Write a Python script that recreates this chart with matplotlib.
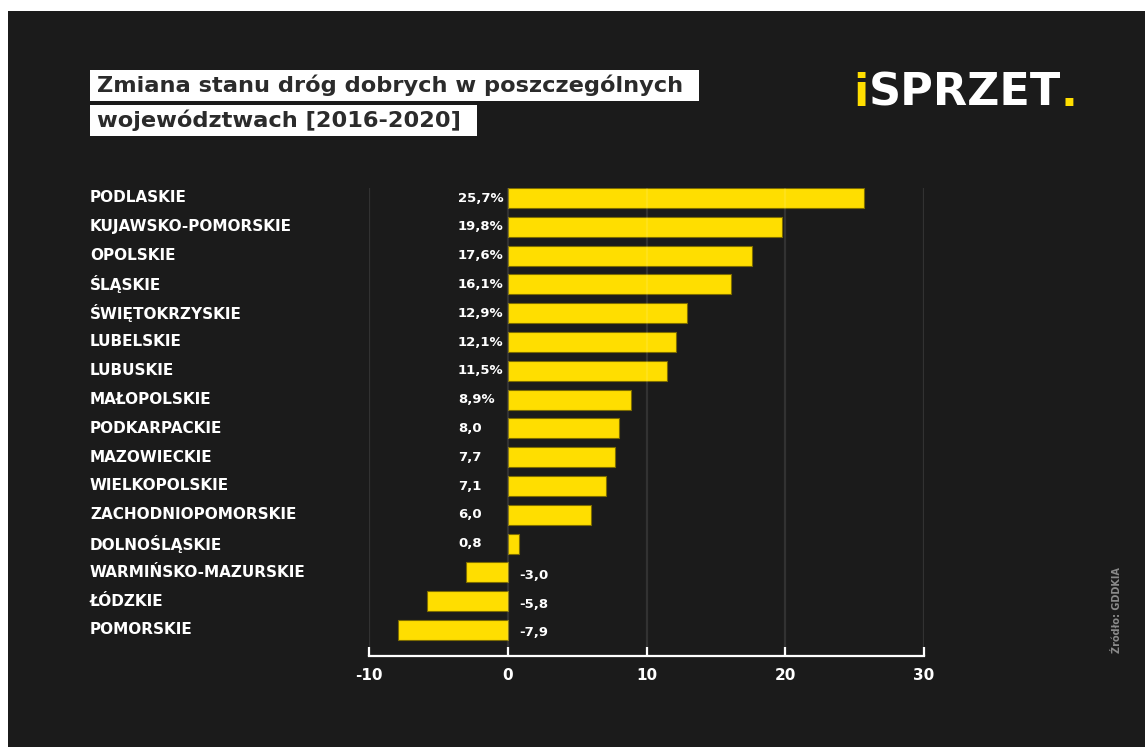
import matplotlib
matplotlib.use("Agg")
import matplotlib.pyplot as plt
import matplotlib.transforms as mtransforms
from matplotlib.patches import Rectangle

# ---------------- data ----------------
regions = ["PODLASKIE", "KUJAWSKO-POMORSKIE", "OPOLSKIE", "ŚLĄSKIE",
           "ŚWIĘTOKRZYSKIE", "LUBELSKIE", "LUBUSKIE", "MAŁOPOLSKIE",
           "PODKARPACKIE", "MAZOWIECKIE", "WIELKOPOLSKIE",
           "ZACHODNIOPOMORSKIE", "DOLNOŚLĄSKIE", "WARMIŃSKO-MAZURSKIE",
           "ŁÓDZKIE", "POMORSKIE"]
values = [25.7, 19.8, 17.6, 16.1, 12.9, 12.1, 11.5, 8.9, 8.0, 7.7, 7.1,
          6.0, 0.8, -3.0, -5.8, -7.9]
value_labels = ["25,7%", "19,8%", "17,6%", "16,1%", "12,9%", "12,1%",
                "11,5%", "8,9%", "8,0", "7,7", "7,1", "6,0", "0,8",
                "-3,0", "-5,8", "-7,9"]
x_ticks = [-10, 0, 10, 20, 30]
x_tick_labels = ["-10", "0", "10", "20", "30"]
title_lines = ["Zmiana stanu dróg dobrych w poszczególnych",
               "województwach [2016-2020]"]
source_text = "Źródło: GDDKIA"

# ---------------- style ----------------
W, H = 1145, 747
BG = "#1b1b1b"
YELLOW = "#FFDE00"
EDGE = "#7d6c00"
FONT = "DejaVu Sans"

fig = plt.figure(figsize=(W / 100, H / 100), dpi=100, facecolor="white")
fig.patches.append(Rectangle((8 / W, 0), 1 - 8 / W, 1 - 11 / H,
                             transform=fig.transFigure, facecolor=BG,
                             edgecolor="none", zorder=-10))

ax_left, ax_right = 369, 924
ax_top, ax_bottom = 188, 656
ax = fig.add_axes([ax_left / W, 1 - ax_bottom / H,
                   (ax_right - ax_left) / W, (ax_bottom - ax_top) / H])
ax.set_facecolor("none")

ypos = list(range(len(regions)))
ax.barh(ypos, values, height=0.70, color=YELLOW, edgecolor=EDGE,
        linewidth=0.8, zorder=2)

row_px = (630 - 198) / 15.0
ax.set_xlim(-10, 30)
ax.set_ylim((ax_bottom - 198) / row_px, -(198 - ax_top) / row_px)

for s in ["top", "right", "left"]:
    ax.spines[s].set_visible(False)
ax.spines["bottom"].set_color("white")
ax.spines["bottom"].set_linewidth(1.6)
ax.set_yticks([])
ax.set_xticks(x_ticks)
ax.set_xticklabels(x_tick_labels, color="white", fontsize=11,
                   fontweight="bold", family=FONT)
ax.tick_params(axis="x", direction="in", length=6.5, width=1.6,
               color="white", pad=9)
for t in ax.xaxis.get_major_ticks():
    t.tick1line.set_clip_on(False)
ax.grid(axis="x", color="white", alpha=0.1, linewidth=1.6, zorder=3)
ax.set_axisbelow(False)

blend = mtransforms.blended_transform_factory(fig.transFigure, ax.transData)
for i, (name, v, lab) in enumerate(zip(regions, values, value_labels)):
    ax.text(90 / W, i, name, transform=blend, color="white", fontsize=11,
            fontweight="bold", family=FONT, va="center", ha="left")
    if v >= 0:
        ax.text(458 / W, i, lab, transform=blend, color="white",
                fontsize=9.5, fontweight="bold", family=FONT,
                va="center", ha="left")
    else:
        ax.text(519 / W, i + 0.1, lab, transform=blend, color="white",
                fontsize=9.5, fontweight="bold", family=FONT,
                va="center", ha="left")

# ---------------- title boxes ----------------
fig.canvas.draw()
renderer = fig.canvas.get_renderer()
box_rows = [(70, 101), (105, 136)]
for line, (y0, y1) in zip(title_lines, box_rows):
    yc = (y0 + y1) / 2
    t = fig.text(97 / W, 1 - yc / H, line, color="#2b2b2b", fontsize=16.2,
                 family=FONT, fontweight="semibold", va="center",
                 ha="left", zorder=5)
    bb = t.get_window_extent(renderer)
    x_end = bb.x1 + 16
    fig.patches.append(Rectangle((90 / W, 1 - y1 / H), (x_end - 90) / W,
                                 (y1 - y0) / H, transform=fig.transFigure,
                                 facecolor="white", edgecolor="none",
                                 zorder=1))

# ---------------- logo ----------------
logo_parts = [("i", YELLOW), ("SPRZET", "white"), (".", YELLOW)]
x_cur = 853
for txt, col in logo_parts:
    t = fig.text(x_cur / W, 1 - 106 / H, txt, color=col, fontsize=32,
                 family=FONT, fontweight="heavy", va="baseline", ha="left")
    bb = t.get_window_extent(renderer)
    x_cur += bb.width

# ---------------- source ----------------
fig.text(1117 / W, 1 - 610 / H, source_text, color="#8a8a8a", fontsize=7,
         fontweight="bold", family=FONT, rotation=90, va="center",
         ha="center")

fig.savefig("out.png", dpi=100, facecolor=fig.get_facecolor())
